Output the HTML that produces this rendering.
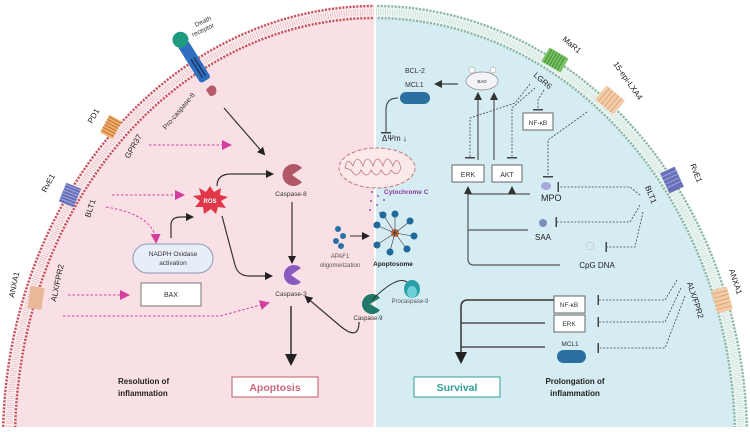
<!DOCTYPE html>
<html><head><meta charset="utf-8"><style>
html,body{margin:0;padding:0;background:#fff;width:750px;height:432px;overflow:hidden;}
svg{display:block;font-family:"Liberation Sans",sans-serif;}
</style></head><body>
<svg width="750" height="432" viewBox="0 0 750 432" xmlns="http://www.w3.org/2000/svg">
<defs>
<clipPath id="cl"><rect x="0" y="0" width="374" height="427"/></clipPath>
<clipPath id="cr"><rect x="376" y="0" width="374" height="427"/></clipPath>
<marker id="ab" markerWidth="8" markerHeight="8" refX="6" refY="4" orient="auto" markerUnits="userSpaceOnUse"><path d="M0,0 L8,4 L0,8z" fill="#222"/></marker>
<marker id="ap" markerWidth="10" markerHeight="10" refX="8" refY="5" orient="auto" markerUnits="userSpaceOnUse"><path d="M0,0 L10,5 L0,10z" fill="#d43ea0"/></marker>
<marker id="ag" markerWidth="8" markerHeight="8" refX="6" refY="4" orient="auto" markerUnits="userSpaceOnUse"><path d="M0,0 L8,4 L0,8z" fill="#333"/></marker>
<marker id="abig" markerWidth="12" markerHeight="12" refX="8" refY="6" orient="auto" markerUnits="userSpaceOnUse"><path d="M0,0 L12,6 L0,12z" fill="#222"/></marker>
<marker id="tb" markerWidth="2" markerHeight="10" refX="1" refY="5" orient="auto" markerUnits="userSpaceOnUse"><rect x="0" y="0" width="1.5" height="10" fill="#444"/></marker>
</defs>
<g clip-path="url(#cl)">
<ellipse cx="375" cy="440" rx="373" ry="435" fill="#fbeef0"/>
<ellipse cx="375" cy="440" rx="372" ry="434" fill="none" stroke="#c8505c" stroke-width="2.5" stroke-dasharray="2 1.5"/>
<ellipse cx="375" cy="440" rx="366" ry="428" fill="none" stroke="#e0a0a8" stroke-width="7" stroke-dasharray="0.5 1.8"/>
<ellipse cx="375" cy="440" rx="360" ry="422" fill="#f9e0e5" stroke="#c8505c" stroke-width="2.5" stroke-dasharray="2 1.5"/>
</g>
<g clip-path="url(#cr)">
<ellipse cx="375" cy="440" rx="373" ry="435" fill="#eef6f4"/>
<ellipse cx="375" cy="440" rx="372" ry="434" fill="none" stroke="#8ab8a2" stroke-width="2.5" stroke-dasharray="2 1.5"/>
<ellipse cx="375" cy="440" rx="366" ry="428" fill="none" stroke="#b8d4c8" stroke-width="7" stroke-dasharray="0.5 1.8"/>
<ellipse cx="375" cy="440" rx="360" ry="422" fill="#d6ecf3" stroke="#8ab8a2" stroke-width="2.5" stroke-dasharray="2 1.5"/>
</g>
<rect x="0" y="427" width="750" height="5" fill="#fff"/>

<g transform="translate(190,55) rotate(-32)">
<rect x="-6" y="-14" width="12" height="44" rx="3" fill="#2e6fc0"/>
<rect x="-2" y="4" width="1.2" height="22" fill="#1a2a50"/><rect x="1.5" y="4" width="1.2" height="22" fill="#1a2a50"/>
<circle cx="0" cy="-18" r="8" fill="#1f9a80"/>
</g>
<text font-size="6.5" fill="#333" transform="translate(196,27) rotate(-25)">Death</text>
<text font-size="6.5" fill="#333" transform="translate(193,37) rotate(-25)">receptor</text>
<path d="M206,90 q6,-8 10,-2 q2,8 -6,8z" fill="#b65a6a"/>
<text font-size="7" fill="#333" transform="translate(166,130) rotate(-50)">Pro-caspase-8</text>
<g transform="translate(111,127) rotate(-62)"><rect x="-10" y="-7" width="20" height="14" fill="#f0b070"/>
<path d="M-7,-7v14M-4,-7v14M-1,-7v14M2,-7v14M5,-7v14M8,-7v14" stroke="#c07030" stroke-width="1"/></g>
<text font-size="8" fill="#222" transform="translate(92,124) rotate(-60)">PD1</text>
<text font-size="8" fill="#222" transform="translate(129,159) rotate(-60)">GPR37</text>
<g transform="translate(70,195) rotate(-68)"><rect x="-10" y="-8" width="20" height="16" fill="#6870b8"/>
<path d="M-7,-8v16M-4,-8v16M-1,-8v16M2,-8v16M5,-8v16M8,-8v16" stroke="#a0a8e0" stroke-width="1"/></g>
<text font-size="8" fill="#222" transform="translate(46,193) rotate(-62)">RvE1</text>
<text font-size="8" fill="#222" transform="translate(90,218) rotate(-72)">BLT1</text>
<g transform="translate(36,298) rotate(-82)"><rect x="-11" y="-7" width="22" height="14" fill="#e8b898"/></g>
<text font-size="8" fill="#222" transform="translate(14,298) rotate(-78)">ANXA1</text>
<text font-size="8" fill="#222" transform="translate(56,302) rotate(-78)">ALX/FPR2</text>

<g stroke="#d43ea0" stroke-width="1" stroke-dasharray="2.5 2" fill="none">
<path d="M149,145 L230,145" marker-end="url(#ap)"/>
<path d="M112,195 L183,195" marker-end="url(#ap)"/>
<path d="M106,207 Q155,215 156,242" marker-end="url(#ap)"/>
<path d="M68,295 L128,295" marker-end="url(#ap)"/>
<path d="M63,316 L220,316 L268,303" marker-end="url(#ap)"/>
</g>

<g stroke="#333" stroke-width="1.2" fill="none">
<path d="M224,108 L264,154" marker-end="url(#ab)"/>
<path d="M217,186 q0,-12 14,-12 L272,174" marker-end="url(#ab)"/>
<path d="M171,238 L171,225 q0,-8 10,-8 L192,217" marker-end="url(#ab)"/>
<path d="M222,216 L235,265 q3,11 14,11 L271,276" marker-end="url(#ab)"/>
<path d="M292,202 L292,262" marker-end="url(#ab)"/>
<path d="M291,306 L291,362" stroke-width="1.5" marker-end="url(#abig)"/>
<path d="M359,322 q0,20 -20,3 L306,297" marker-end="url(#ab)"/>
</g>

<polygon points="210,186 214,192 221,188 220,195 228,197 221,201 226,208 218,207 216,214 211,209 204,214 203,207 195,207 200,201 193,196 201,195 199,188 206,192" fill="#e0384a"/>
<text x="210" y="203" font-size="6" fill="#fff" font-weight="bold" text-anchor="middle">ROS</text>

<path d="M302,168 A11,11 0 1 0 302,182 L292,175z" fill="#b05868"/>
<text x="291" y="196" font-size="6.5" fill="#333" text-anchor="middle">Caspase-8</text>
<path d="M301,268 A10,10 0 1 0 301,282 L291,275z" fill="#8a5ac0"/>
<text x="291" y="296" font-size="6.5" fill="#333" text-anchor="middle">Caspase-3</text>
<path d="M380,298 A10,10 0 1 0 380,310 L370,304z" fill="#1f7a6a"/>
<text x="368" y="320" font-size="6" fill="#333" text-anchor="middle">Caspase-9</text>
<ellipse cx="412" cy="289" rx="8" ry="9" fill="#2aa0a8"/><ellipse cx="412" cy="292" rx="5" ry="6" fill="#70d0d8"/>
<text x="410" y="303" font-size="6" fill="#555" text-anchor="middle">Procaspase-9</text>
<path d="M372,300 q25,-25 35,-18" stroke="#333" fill="none"/>

<rect x="133" y="244" width="80" height="29" rx="14.5" fill="#e8eef8" stroke="#8a9bb8"/>
<text x="173" y="256" font-size="6.5" fill="#333" text-anchor="middle">NADPH Oxidase</text>
<text x="173" y="265" font-size="6.5" fill="#333" text-anchor="middle">activation</text>
<rect x="141" y="283" width="60" height="23" fill="#fff" stroke="#777"/>
<text x="171" y="297" font-size="7" fill="#333" text-anchor="middle">BAX</text>

<text x="118" y="384" font-size="8" font-weight="bold" fill="#222">Resolution of</text>
<text x="118" y="396" font-size="8" font-weight="bold" fill="#222">inflammation</text>
<rect x="232" y="377" width="86" height="20" fill="#fff" stroke="#c0586a"/>
<text x="275" y="391" font-size="10.5" font-weight="bold" fill="#c96a7c" text-anchor="middle">Apoptosis</text>

<ellipse cx="377" cy="168" rx="38" ry="20" fill="#fbe8e8" stroke="#c07878" stroke-width="1" stroke-dasharray="4 2"/>
<path d="M345,168 q2,-12 8,-2 q4,-14 10,0 q4,-14 10,0 q4,-14 10,0 q4,-14 10,0 q4,-12 8,2 q-4,10 -10,2 q-4,10 -10,0 q-4,10 -10,0 q-4,10 -10,0 q-4,10 -10,0z" fill="none" stroke="#c07878" stroke-width="0.8"/>
<g fill="#a050b0"><circle cx="372" cy="192" r="1"/><circle cx="378" cy="196" r="1"/><circle cx="371" cy="201" r="1"/><circle cx="377" cy="205" r="1"/><circle cx="380" cy="213" r="1"/><circle cx="370" cy="210" r="1"/><circle cx="384" cy="200" r="1"/></g>
<text x="384" y="194" font-size="6.5" font-weight="bold" fill="#8a3a9a">Cytochrome C</text>

<g fill="#2a70a8"><circle cx="338" cy="229" r="3"/><circle cx="343" cy="236" r="3"/><circle cx="336" cy="241" r="3"/><circle cx="341" cy="246" r="3"/></g>
<path d="M350,236 L368,236" stroke="#333" marker-end="url(#ab)"/>
<text x="340" y="258" font-size="6" fill="#555" text-anchor="middle">APAF1</text>
<text x="340" y="267" font-size="6" fill="#555" text-anchor="middle">oligomerization</text>
<circle cx="395" cy="233" r="4" fill="#d07040"/>
<g stroke="#333" stroke-width="0.6">
<line x1="395" y1="233" x2="395" y2="215"/><line x1="395" y1="233" x2="409" y2="222"/><line x1="395" y1="233" x2="413" y2="236"/><line x1="395" y1="233" x2="406" y2="248"/><line x1="395" y1="233" x2="390" y2="251"/><line x1="395" y1="233" x2="378" y2="244"/><line x1="395" y1="233" x2="378" y2="226"/><line x1="395" y1="233" x2="384" y2="216"/></g>
<g fill="#1f6a9a"><circle cx="395" cy="214" r="3.5"/><circle cx="410" cy="221" r="3.5"/><circle cx="414" cy="236" r="3.5"/><circle cx="407" cy="249" r="3.5"/><circle cx="390" cy="252" r="3.5"/><circle cx="377" cy="245" r="3.5"/><circle cx="377" cy="225" r="3.5"/><circle cx="383" cy="215" r="3.5"/></g>
<text x="393" y="266" font-size="6.5" font-weight="bold" fill="#222" text-anchor="middle">Apoptosome</text>

<text x="405" y="73" font-size="7" fill="#333">BCL-2</text>
<text x="405" y="87" font-size="7" fill="#333">MCL1</text>
<rect x="400" y="92" width="30" height="12" rx="6" fill="#2a6f9f"/>
<path d="M398,98 q-12,0 -12,12 L386,133" stroke="#333" fill="none" marker-end="url(#tb)"/>
<text x="382" y="141" font-size="8" fill="#222">ΔΨm ↓</text>
<ellipse cx="482" cy="81" rx="16" ry="9" fill="#f4f4f8" stroke="#888" stroke-width="0.7"/>
<text x="482" y="83" font-size="4.5" fill="#333" text-anchor="middle">BAD</text>
<circle cx="472" cy="70" r="3" fill="#fff" stroke="#888" stroke-width="0.5"/><circle cx="493" cy="70" r="3" fill="#fff" stroke="#888" stroke-width="0.5"/>
<path d="M458,84 L436,84" stroke="#444" stroke-width="1.2" marker-end="url(#ag)"/>
<g stroke="#555" stroke-width="1.2" fill="none">
<path d="M478,160 L478,94" marker-end="url(#ag)"/>
<path d="M494,160 L494,94" marker-end="url(#ag)"/>
<path d="M530,194 L468,194 L468,188" marker-end="url(#ag)"/>
<path d="M512,194 L512,188" marker-end="url(#ag)"/>
<path d="M528,230 L468,230"/>
<path d="M560,265 L474,265 q-6,0 -6,-6 L468,194"/>
</g>
<rect x="452" y="165" width="32" height="17" fill="#fff" stroke="#666"/>
<text x="468" y="177" font-size="7" fill="#333" text-anchor="middle">ERK</text>
<rect x="492" y="165" width="30" height="17" fill="#fff" stroke="#666"/>
<text x="507" y="177" font-size="7" fill="#333" text-anchor="middle">AKT</text>
<rect x="523" y="113" width="30" height="17" fill="#fff" stroke="#666"/>
<text x="538" y="125" font-size="6.5" fill="#333" text-anchor="middle">NF-κB</text>

<g transform="translate(555,60) rotate(30)"><rect x="-11" y="-8" width="22" height="16" fill="#78c060"/>
<path d="M-8,-8v16M-5,-8v16M-2,-8v16M1,-8v16M4,-8v16M7,-8v16" stroke="#3a8a30" stroke-width="0.9"/></g>
<text font-size="8" fill="#222" transform="translate(562,40) rotate(40)">MaR1</text>
<text font-size="8" fill="#222" transform="translate(533,76) rotate(40)">LGR6</text>
<g transform="translate(610,100) rotate(40)"><rect x="-12" y="-9" width="24" height="18" fill="#f2cca8"/>
<path d="M-8,-9v18M-4,-9v18M0,-9v18M4,-9v18M8,-9v18" stroke="#d8a070" stroke-width="0.8"/></g>
<text font-size="8" fill="#222" transform="translate(613,64) rotate(55)">15-epi-LXA4</text>
<g transform="translate(672,180) rotate(65)"><rect x="-11" y="-8" width="22" height="16" fill="#6870b8"/>
<path d="M-7,-8v16M-3,-8v16M1,-8v16M5,-8v16" stroke="#a0a8e0" stroke-width="1"/></g>
<text font-size="8" fill="#222" transform="translate(690,165) rotate(68)">RvE1</text>
<text font-size="8" fill="#222" transform="translate(645,187) rotate(68)">BLT1</text>
<g transform="translate(722,300) rotate(75)"><rect x="-12" y="-8" width="24" height="16" fill="#f2cca8"/>
<path d="M-8,-8v16M-4,-8v16M0,-8v16M4,-8v16M8,-8v16" stroke="#d8a070" stroke-width="0.8"/></g>
<text font-size="8" fill="#222" transform="translate(729,270) rotate(72)">ANXA1</text>
<text font-size="8" fill="#222" transform="translate(687,283) rotate(72)">ALX/FPR2</text>

<g stroke="#444" stroke-width="0.8" stroke-dasharray="2 1.5" fill="none">
<path d="M530,84 L515,103 L470,118 L470,158" marker-end="url(#tb)"/>
<path d="M535,88 L512,108 L512,158" marker-end="url(#tb)"/>
<path d="M544,90 L538,100 L538,110" marker-end="url(#tb)"/>
<path d="M587,112 L548,140 L548,177" marker-end="url(#tb)"/>
<path d="M640,195 L630,187 L558,187" marker-end="url(#tb)"/>
<path d="M640,205 L630,222 L556,222" marker-end="url(#tb)"/>
<path d="M643,212 L635,247 L606,247" marker-end="url(#tb)"/>
<path d="M677,280 L665,300 L598,300" marker-end="url(#tb)"/>
<path d="M681,288 L665,322 L598,322" marker-end="url(#tb)"/>
<path d="M685,296 L665,348 L598,348" marker-end="url(#tb)"/>
</g>
<ellipse cx="546" cy="186" rx="5" ry="4" fill="#a8a8dc"/>
<text x="541" y="201" font-size="9" fill="#222">MPO</text>
<circle cx="543" cy="223" r="4" fill="#7890c0"/>
<text x="543" y="240" font-size="8" fill="#222" text-anchor="middle">SAA</text>
<circle cx="590" cy="246" r="4" fill="none" stroke="#bbb" stroke-dasharray="1 1"/>
<text x="597" y="268" font-size="8" fill="#222" text-anchor="middle">CpG DNA</text>

<g stroke="#333" stroke-width="1.2" fill="none">
<path d="M554,300 L468,300 q-7,0 -7,7 L461,360" stroke-width="1.5" marker-end="url(#abig)"/>
<path d="M545,323 L461,323"/>
<path d="M545,347 L461,347"/>
</g>
<rect x="554" y="296" width="31" height="17" fill="#fff" stroke="#666"/>
<text x="569" y="307" font-size="6.5" fill="#333" text-anchor="middle">NF-κB</text>
<rect x="554" y="315" width="31" height="17" fill="#fff" stroke="#666"/>
<text x="569" y="326" font-size="6.5" fill="#333" text-anchor="middle">ERK</text>
<text x="570" y="346" font-size="6.5" fill="#333" text-anchor="middle">MCL1</text>
<rect x="557" y="350" width="29" height="13" rx="6.5" fill="#2a6f9f"/>
<rect x="414" y="377" width="86" height="20" fill="#fff" stroke="#2e9f8f"/>
<text x="457" y="391" font-size="10.5" font-weight="bold" fill="#2e9f8f" text-anchor="middle">Survival</text>
<text x="575" y="384" font-size="8" font-weight="bold" fill="#222" text-anchor="middle">Prolongation of</text>
<text x="575" y="396" font-size="8" font-weight="bold" fill="#222" text-anchor="middle">inflammation</text>
</svg>
</body></html>
